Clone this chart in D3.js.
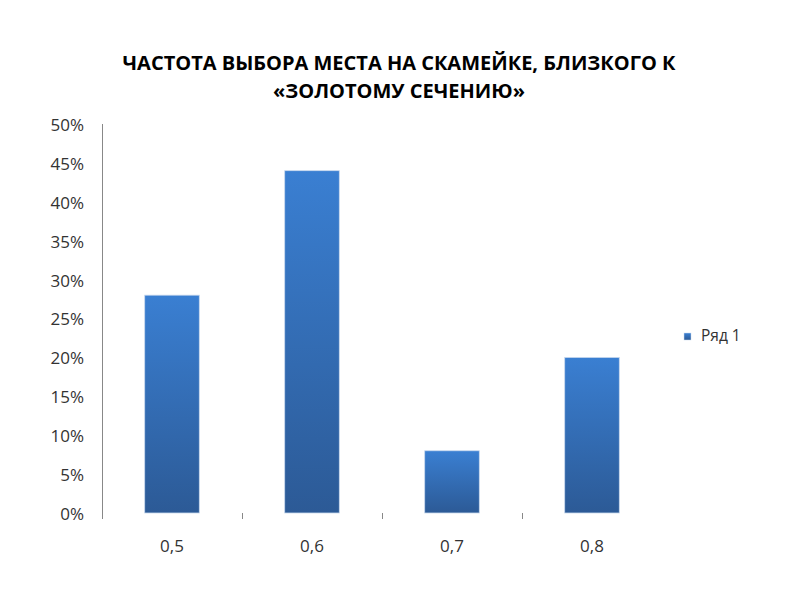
<!DOCTYPE html>
<html><head><meta charset="utf-8">
<script src="https://cdn.jsdelivr.net/npm/d3@7"></script>
<style>body{margin:0;background:#fff}svg{display:block}</style>
</head><body>
<svg id="c" width="800" height="600"></svg>
<script>
const titleLines = ["ЧАСТОТА ВЫБОРА МЕСТА НА СКАМЕЙКЕ, БЛИЗКОГО К", "«ЗОЛОТОМУ СЕЧЕНИЮ»"];
const categories = ["0,5", "0,6", "0,7", "0,8"];
const values = [0.28, 0.44, 0.08, 0.20];
const seriesName = "Ряд 1";
const yTicks = [0, 0.05, 0.10, 0.15, 0.20, 0.25, 0.30, 0.35, 0.40, 0.45, 0.50];

(function () {
const svg = d3.select("#c");
const font = "'Open Sans', 'DejaVu Sans', sans-serif";
const pLeft = 102, pRight = 662, pTop = 124, pBottom = 513;

const defs = svg.append("defs");
const grad = defs.append("linearGradient").attr("id", "g").attr("x1", 0).attr("y1", 0).attr("x2", 0).attr("y2", 1);
grad.append("stop").attr("offset", "0%").attr("stop-color", "#3a7fd2");
grad.append("stop").attr("offset", "100%").attr("stop-color", "#2c5a96");

const x = d3.scaleBand().domain(categories).range([pLeft, pRight]).paddingInner(0.61).paddingOuter(0.305);
const xb = d3.scaleBand().domain(categories).range([pLeft, pRight]);
const y = d3.scaleLinear().domain([0, 0.5]).range([pBottom, pTop]);

svg.append("g").selectAll("text").data(titleLines).join("text")
  .attr("x", 399).attr("y", (d, i) => 70 + i * 28)
  .attr("text-anchor", "middle").attr("font-family", font).attr("font-weight", "bold")
  .attr("font-size", 20).attr("fill", "#000").text(d => d);

const yAxis = d3.axisLeft(y).tickValues(yTicks).tickSize(0).tickPadding(18)
  .tickFormat(d => Math.round(d * 100) + "%");
const gy = svg.append("g").attr("transform", `translate(${pLeft},0)`).call(yAxis);
gy.select(".domain").remove();
gy.selectAll("text").attr("font-family", font).attr("font-size", 17).attr("dy", "0.38em").attr("fill", "#333");
svg.append("line").attr("x1", pLeft + 0.5).attr("x2", pLeft + 0.5).attr("y1", pTop).attr("y2", pBottom + 6)
  .attr("stroke", "#888").attr("stroke-width", 1);

svg.append("g").selectAll("line").data(categories.slice(1)).join("line")
  .attr("x1", d => Math.round(xb(d)) + 0.5).attr("x2", d => Math.round(xb(d)) + 0.5)
  .attr("y1", pBottom).attr("y2", pBottom + 6).attr("stroke", "#888");

const xAxis = d3.axisBottom(x).tickSize(0).tickPadding(27);
const gx = svg.append("g").attr("transform", `translate(0,${pBottom})`).call(xAxis);
gx.select(".domain").remove();
gx.selectAll("text").attr("font-family", font).attr("font-size", 17).attr("fill", "#333");

svg.append("g").selectAll("rect").data(values).join("rect")
  .attr("x", (d, i) => x(categories[i])).attr("width", x.bandwidth())
  .attr("y", d => y(d)).attr("height", d => pBottom - y(d))
  .attr("fill", "url(#g)").attr("stroke", "#c9d9ee").attr("stroke-width", 0.8);

const lg = svg.append("g").attr("transform", "translate(684,333)");
lg.append("rect").attr("width", 7).attr("height", 7).attr("fill", "url(#g)").attr("stroke", "#c9d9ee").attr("stroke-width", 0.5);
lg.append("text").attr("x", 17).attr("y", 8).attr("font-family", font).attr("font-size", 15.5).attr("fill", "#333").text(seriesName);
})();
</script>
</body></html>
